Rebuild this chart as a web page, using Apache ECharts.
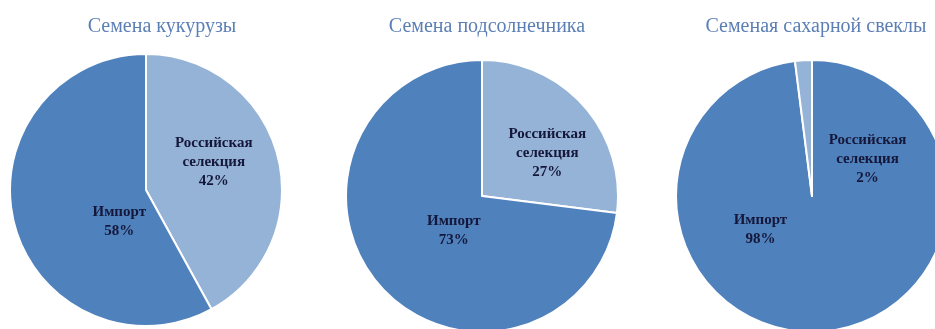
<!DOCTYPE html>
<html>
<head>
    <meta charset="utf-8">
    <script src="https://cdn.jsdelivr.net/npm/echarts@6/dist/echarts.min.js"></script>
    <style type="text/css">
        body { margin: 0; background: #fff; }
        #main { width: 935px; height: 329px; }
    </style>
</head>
<body>
    <div id="main"></div>
    <script>
        // данные
        var titles = ['Семена кукурузы', 'Семена подсолнечника', 'Семеная сахарной свеклы'];
        var names1 = ['Российская\nселекция', 'Импорт'];
        var values1 = [42, 58];
        var names2 = ['Российская\nселекция', 'Импорт'];
        var values2 = [27, 73];
        var names3 = ['Импорт', 'Российская\nселекция'];
        var values3 = [98, 2];

        var darkBlue = '#4f81bd';
        var lightBlue = '#95b3d7';

        // раскладка
        var centers = [[146, 190], [482, 196], [812, 196]];
        var titleX = [157, 482, 811];
        var radius = 136;
        var colors = [[lightBlue, darkBlue], [lightBlue, darkBlue], [darkBlue, lightBlue]];
        var offsets = [
            [[-1, -10], [42, 14]],
            [[12, 4], [25, -12]],
            [[-56, -37], [60, 34]]
        ];

        var allNames = [names1, names2, names3];
        var allValues = [values1, values2, values3];

        var myChart = echarts.init(document.getElementById('main'));

        var titleList = [];
        var seriesList = [];
        for (var i = 0; i < 3; i++) {
            titleList.push({
                text: titles[i],
                left: titleX[i],
                top: 12,
                textAlign: 'center',
                textStyle: {
                    fontFamily: 'Liberation Serif',
                    fontSize: 20,
                    fontWeight: 'normal',
                    color: '#5b7fb5'
                }
            });
            var data = [];
            for (var j = 0; j < allValues[i].length; j++) {
                data.push({
                    name: allNames[i][j],
                    value: allValues[i][j],
                    itemStyle: { color: colors[i][j] },
                    label: { offset: offsets[i][j] }
                });
            }
            seriesList.push({
                type: 'pie',
                center: centers[i],
                radius: radius,
                startAngle: 90,
                clockwise: true,
                animation: false,
                silent: true,
                itemStyle: {
                    borderColor: '#ffffff',
                    borderWidth: 2
                },
                label: {
                    show: true,
                    position: 'inside',
                    formatter: '{b}\n{c}%',
                    fontFamily: 'Liberation Serif',
                    fontSize: 15,
                    fontWeight: 'bold',
                    lineHeight: 19,
                    color: '#15173a',
                    align: 'center'
                },
                labelLine: { show: false },
                data: data
            });
        }

        myChart.setOption({
            backgroundColor: '#ffffff',
            title: titleList,
            series: seriesList
        });
    </script>
</body>
</html>
